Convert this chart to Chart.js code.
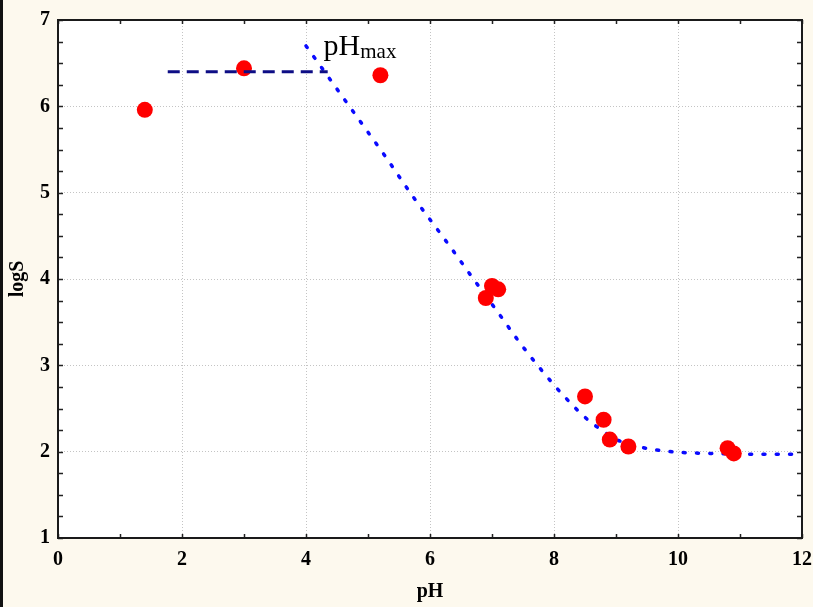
<!DOCTYPE html>
<html>
<head>
<meta charset="utf-8">
<script src="https://cdn.jsdelivr.net/npm/chart.js@4/dist/chart.umd.min.js"></script>
<style>
  html, body { margin: 0; padding: 0; background: #fdf9ee; }
  #wrap { width: 813px; height: 607px; }
</style>
</head>
<body>
<div id="wrap"><canvas id="c" width="813" height="607"></canvas></div>
<script>
// Measured solubility (logS) against pH
const phObs    = [1.4, 3.0, 5.2, 6.9, 7.0, 7.1, 8.5, 8.8, 8.9, 9.2, 10.8, 10.9];
const logSObs  = [5.96, 6.44, 6.36, 3.78, 3.92, 3.88, 2.64, 2.37, 2.14, 2.06, 2.04, 1.98];

// Fitted solubility profile
const phFit    = [4.0, 4.32, 4.65, 4.95, 5.26, 5.71, 6.03, 6.34, 6.65, 7.13, 7.44, 7.77, 8.14, 8.56, 8.77, 8.98, 9.2, 9.41, 9.64, 10.07, 10.5, 11.36, 12.0];
const logSFit  = [6.70, 6.38, 6.05, 5.75, 5.44, 4.97, 4.66, 4.36, 4.05, 3.58, 3.27, 2.97, 2.66, 2.36, 2.25, 2.15, 2.09, 2.05, 2.02, 1.99, 1.98, 1.97, 1.97];

// Plateau level up to pHmax
const phPlateau   = [1.77, 4.35];
const logSPlateau = [6.4, 6.4];

// Axis ranges and tick steps
const xRange = [0, 12], xMajor = 2, xMinor = 1;
const yRange = [1, 7],  yMajor = 1, yMinor = 0.25;

// Annotation
const labelMain = 'pH', labelSub = 'max';
const labelAt = { x: 4.3, y: 6.595 };

const pts = (xs, ys) => xs.map((x, i) => ({ x, y: ys[i] }));

const tickFont = { family: '"Liberation Serif", "Times New Roman", serif', size: 20, weight: 'bold' };
const titleFont = { family: '"Liberation Serif", "Times New Roman", serif', size: 20, weight: 'bold' };
const gridColor = '#c4c4c4';

const framePlugin = {
  id: 'frame',
  beforeDraw(chart) {
    const ctx = chart.ctx;
    ctx.save();
    ctx.fillStyle = '#fdf9ee';
    ctx.fillRect(0, 0, chart.width, chart.height);
    ctx.fillStyle = '#111';
    ctx.fillRect(0, 0, 3, chart.height);
    const a = chart.chartArea;
    ctx.fillStyle = '#ffffff';
    ctx.fillRect(a.left, a.top, a.right - a.left, a.bottom - a.top);
    ctx.restore();
  },
  afterDraw(chart) {
    const ctx = chart.ctx;
    const a = chart.chartArea;
    const xs = chart.scales.x, ys = chart.scales.y;
    ctx.save();
    ctx.strokeStyle = '#222';
    ctx.lineWidth = 1.5;
    // inward tick marks on all four sides
    ctx.beginPath();
    for (let v = xRange[0]; v <= xRange[1] + 1e-9; v += xMinor) {
      const px = Math.round(xs.getPixelForValue(v)) + 0.5;
      ctx.moveTo(px, a.bottom); ctx.lineTo(px, a.bottom - 4);
      ctx.moveTo(px, a.top); ctx.lineTo(px, a.top + 4);
    }
    for (let v = yRange[0]; v <= yRange[1] + 1e-9; v += yMinor) {
      const py = Math.round(ys.getPixelForValue(v)) + 0.5;
      ctx.moveTo(a.left, py); ctx.lineTo(a.left + 5, py);
      ctx.moveTo(a.right, py); ctx.lineTo(a.right - 5, py);
    }
    ctx.stroke();
    // plot frame
    ctx.lineWidth = 2;
    ctx.strokeStyle = '#1a1a1a';
    ctx.strokeRect(a.left, a.top, a.right - a.left, a.bottom - a.top);

    // pHmax annotation
    const lx = xs.getPixelForValue(labelAt.x);
    const ly = ys.getPixelForValue(labelAt.y);
    ctx.fillStyle = '#000';
    ctx.textBaseline = 'alphabetic';
    ctx.textAlign = 'left';
    ctx.font = '30px "Liberation Serif", "Times New Roman", serif';
    ctx.fillText(labelMain, lx - 1, ly);
    const w = ctx.measureText(labelMain).width;
    ctx.font = '21px "Liberation Serif", "Times New Roman", serif';
    ctx.fillText(labelSub, lx - 1 + w, ly + 3.5);
    ctx.restore();
  }
};

new Chart(document.getElementById('c'), {
  type: 'scatter',
  data: {
    datasets: [
      {
        label: 'plateau',
        type: 'line',
        data: pts(phPlateau, logSPlateau),
        borderColor: '#0d0d85',
        borderWidth: 3,
        borderDash: [12, 7],
        pointRadius: 0,
        fill: false,
        order: 0
      },
      {
        label: 'logS',
        data: pts(phObs, logSObs),
        backgroundColor: '#ff0000',
        borderWidth: 0,
        pointRadius: 8,
        pointHoverRadius: 8,
        order: 1
      },
      {
        label: 'fit',
        type: 'line',
        data: pts(phFit, logSFit),
        borderColor: '#0a0aff',
        borderWidth: 3.5,
        borderDash: [2, 11.3],
        borderCapStyle: 'round',
        cubicInterpolationMode: 'monotone',
        pointRadius: 0,
        fill: false,
        order: 2
      }
    ]
  },
  options: {
    responsive: false,
    animation: false,
    layout: { padding: { top: 20, right: 11, left: 0, bottom: 0 } },
    plugins: { legend: { display: false }, tooltip: { enabled: false } },
    scales: {
      x: {
        type: 'linear',
        min: xRange[0], max: xRange[1],
        afterFit(s) { s.height = 69; s.paddingLeft = 0; s.paddingRight = 0; },
        border: { display: false, dash: [1, 2] },
        grid: { color: gridColor, lineWidth: 1, drawTicks: false, borderDash: [1, 2] },
        ticks: { stepSize: xMajor, color: '#000', font: tickFont, padding: 10 },
        title: { display: true, text: 'pH', color: '#000', font: titleFont, padding: { top: 0, bottom: 3 } }
      },
      y: {
        type: 'linear',
        min: yRange[0], max: yRange[1],
        afterFit(s) { s.width = 58; s.paddingTop = 0; s.paddingBottom = 0; },
        border: { display: false, dash: [1, 2] },
        grid: { color: gridColor, lineWidth: 1, drawTicks: false, borderDash: [1, 2] },
        ticks: { stepSize: yMajor, color: '#000', font: tickFont, padding: 8 },
        title: { display: true, text: 'logS', color: '#000', font: titleFont, padding: { top: 6, bottom: 0 } }
      }
    }
  },
  plugins: [framePlugin]
});
</script>
</body>
</html>
